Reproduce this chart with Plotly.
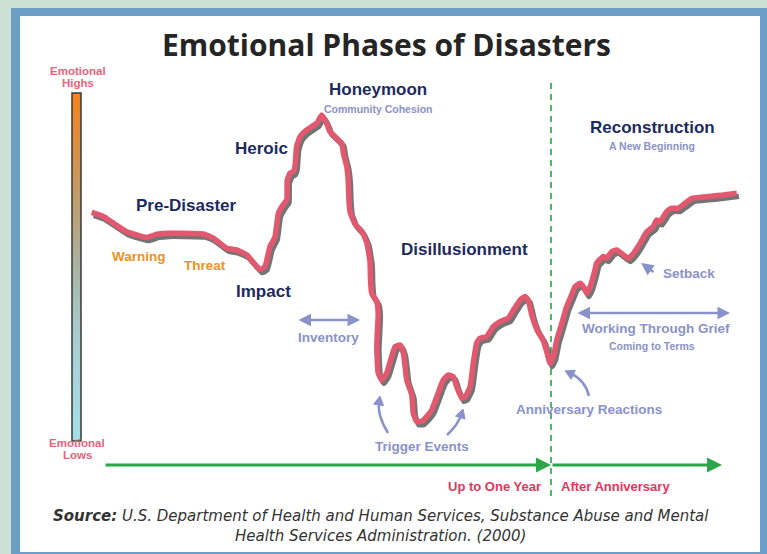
import plotly.graph_objects as go

# ---------------- data (months since impact, emotional level 0-100) ----------------
months = [-7.14, -6.65, -6.24, -5.68, -5.26, -4.85, -4.43, -4.01, -3.46, -2.49,
          -2.07, -1.51, -1.10, -0.68, -0.13, 0.08, 0.29, 0.50, 0.64, 0.83,
          0.99, 1.01, 1.125, 1.26, 1.33, 1.40, 1.54, 1.82, 2.24, 2.45,
          2.65, 2.79, 3.07, 3.28, 3.35, 3.49, 3.55, 3.58, 3.63, 3.83,
          4.13, 4.33, 4.46, 4.48, 4.53, 4.74, 4.80, 4.74, 4.80, 4.95,
          5.15, 5.36, 5.50, 5.71, 5.85, 5.99, 6.20, 6.26, 6.40, 6.61,
          6.82, 7.03, 7.24, 7.51, 7.72, 7.93, 8.07, 8.28, 8.42, 8.63,
          8.76, 8.90, 9.04, 9.32, 9.60, 9.88, 10.22, 10.43, 10.71, 10.92,
          11.05, 11.21, 11.42, 11.67, 11.82, 11.96, 12.10, 12.24, 12.45, 12.65,
          12.86, 13.00, 13.21, 13.35, 13.49, 13.63, 13.83, 13.90, 14.18, 14.32,
          14.53, 14.74, 15.01, 15.22, 15.43, 15.71, 15.99, 16.26, 16.40, 16.54,
          16.82, 17.03, 17.30, 17.58, 17.86, 18.49, 19.18, 19.74]
levels = [65.7, 64.5, 62.6, 60.1, 59.2, 58.5, 59.4, 59.7, 59.7, 59.5,
          58.3, 55.4, 54.9, 53.5, 49.3, 50.1, 55.8, 58.7, 65.4, 67.8,
          69.3, 75.0, 76.9, 77.4, 78.8, 84.6, 87.4, 89.4, 91.3, 93.7,
          91.3, 88.9, 87.0, 85.6, 82.7, 78.8, 75.0, 69.3, 65.8, 62.4,
          60.1, 56.9, 51.4, 46.3, 42.4, 40.0, 36.7, 27.1, 19.5, 17.5,
          19.5, 24.2, 27.1, 27.6, 25.2, 17.5, 13.2, 8.0, 5.6, 5.6,
          7.0, 8.9, 12.7, 17.5, 19.0, 18.5, 15.6, 12.3, 12.7, 15.6,
          22.3, 28.1, 29.5, 30.0, 32.9, 34.3, 35.3, 37.6, 40.5, 41.5,
          40.5, 35.9, 31.9, 29.0, 25.7, 22.3, 24.2, 29.0, 33.8, 38.6,
          42.0, 44.3, 45.3, 44.3, 42.4, 44.3, 49.1, 51.1, 53.0, 52.5,
          54.4, 54.9, 53.5, 52.5, 53.9, 56.8, 60.1, 61.6, 63.5, 63.0,
          65.9, 66.9, 66.9, 68.3, 69.7, 70.2, 70.7, 71.2]

title_text = "Emotional Phases of Disasters"
phase_labels = ["Pre-Disaster", "Heroic", "Honeymoon", "Impact", "Disillusionment", "Reconstruction"]
sub_labels = ["Community Cohesion", "A New Beginning", "Coming to Terms"]
event_labels = ["Inventory", "Trigger Events", "Anniversary Reactions", "Setback", "Working Through Grief"]
warn_labels = ["Warning", "Threat"]
time_labels = ["Up to One Year", "After Anniversary"]
scale_words = ["Emotional", "Highs", "Emotional", "Lows"]
source_html = ("<b>Source:</b> U.S. Department of Health and Human Services, Substance Abuse and Mental"
               "<br>Health Services Administration. (2000)")
anniversary_month = 12

# ---------------- layout calibration ----------------
W, H = 767, 554
MONTH0_PX, PX_PER_MONTH = 263, 24.0
LEVEL0_PX, PX_PER_LEVEL = 441, 3.48


def px(x):
    return x / W


def py(y):
    return 1 - y / H


def mx(x):  # pixel x -> month
    return (x - MONTH0_PX) / PX_PER_MONTH


NAVY = "#1d2a5f"
LAV = "#8a92cb"
ORANGE = "#ef9121"
PINK = "#e8627c"
RED = "#e2375c"
GREEN = "#2ba64a"
CURVE = "#e2586f"
FONT = "Liberation Sans"

fig = go.Figure()

# gradient scale bar
bx0, bx1 = mx(72), mx(81)
fig.add_trace(go.Scatter(
    x=[bx0, bx1, bx1, bx0, bx0], y=[0, 0, 100, 100, 0], mode="lines",
    fill="toself", line=dict(color="#3a3a3a", width=1.5),
    fillgradient=dict(type="vertical", colorscale=[
        [0, "#a4dfea"], [0.3, "#a8cfd0"], [0.5, "#a9b3a3"], [0.72, "#c49a62"], [1, "#f7821b"]]),
    hoverinfo="skip", showlegend=False))

# curve shadow + curve
fig.add_trace(go.Scatter(
    x=[m + 0.09 for m in months], y=[v - 0.9 for v in levels], mode="lines",
    line=dict(color="rgba(70,70,70,0.75)", width=5.5, shape="spline", smoothing=0.4),
    hoverinfo="skip", showlegend=False))
fig.add_trace(go.Scatter(
    x=months, y=levels, mode="lines",
    line=dict(color=CURVE, width=5.5, shape="spline", smoothing=0.4),
    hoverinfo="skip", showlegend=False))

shapes = [
    dict(type="rect", xref="paper", yref="paper", x0=px(11), x1=1.02, y0=-0.02, y1=py(8),
         fillcolor="#6b9fc6", line=dict(width=0), layer="below"),
    dict(type="rect", xref="paper", yref="paper", x0=px(20), x1=px(760), y0=py(552), y1=py(16),
         fillcolor="white", line=dict(width=0), layer="below"),
    dict(type="line", xref="x", yref="paper", x0=anniversary_month, x1=anniversary_month,
         y0=py(496), y1=py(80), line=dict(color="#4db868", width=2, dash="6px,5px"), layer="below"),
]


def qpath(p0, c, p1):
    return "M {} {} Q {} {} {} {}".format(px(p0[0]), py(p0[1]), px(c[0]), py(c[1]), px(p1[0]), py(p1[1]))


def head_path(tip, c, length=9, half=5):
    dx, dy = tip[0] - c[0], tip[1] - c[1]
    n = (dx * dx + dy * dy) ** 0.5
    ux, uy = dx / n, dy / n
    bx, by = tip[0] - ux * length, tip[1] - uy * length
    pts = [tip, (bx - uy * half, by + ux * half), (bx + uy * half, by - ux * half)]
    return "M " + " L ".join("{} {}".format(px(a), py(b)) for a, b in pts) + " Z"


curved = [((388, 433), (377, 415), (380, 396)),
          ((447, 435), (458, 425), (463, 409)),
          ((589, 396), (585, 380), (565, 371))]
for p0, c, p1 in curved:
    dx, dy = p1[0] - c[0], p1[1] - c[1]
    n = (dx * dx + dy * dy) ** 0.5
    end = (p1[0] - dx / n * 6, p1[1] - dy / n * 6)
    shapes.append(dict(type="path", xref="paper", yref="paper", path=qpath(p0, c, end),
                       line=dict(color=LAV, width=2.5)))
    shapes.append(dict(type="path", xref="paper", yref="paper", path=head_path(p1, c),
                       fillcolor=LAV, line=dict(color=LAV, width=1)))

ann = []


def text(t, x, y, color, size, bold=True, xanchor="center", family=FONT, italic=False):
    s = ("<b>%s</b>" % t) if bold else t
    if italic:
        s = "<i>%s</i>" % s
    ann.append(dict(text=s, x=px(x), y=py(y), xref="paper", yref="paper",
                    showarrow=False, xanchor=xanchor, yanchor="middle", align="center",
                    font=dict(family=family, size=size, color=color)))


def arrow(tail, head, color, width, both=False, size=1.0):
    ann.append(dict(text="", x=px(head[0]), y=py(head[1]), xref="paper", yref="paper",
                    ax=tail[0] - head[0], ay=tail[1] - head[1], axref="pixel", ayref="pixel",
                    showarrow=True, arrowhead=2, startarrowhead=2, arrowsize=size, startarrowsize=size,
                    arrowside="end+start" if both else "end",
                    arrowwidth=width, arrowcolor=color, standoff=0, startstandoff=0))


arrow((297, 320), (360, 320), LAV, 2.5, both=True)
arrow((576, 313), (730, 313), LAV, 2.5, both=True)
arrow((655, 273), (641, 263), LAV, 2.5)
arrow((104, 465), (551, 465), GREEN, 3)
arrow((551, 465), (722, 465), GREEN, 3)

text(title_text, 386, 44, "#252525", 30, family="Open Sans")
text(scale_words[0], 77.5, 71, PINK, 11.5)
text(scale_words[1], 77.5, 83, PINK, 11.5)
text(scale_words[2], 77, 442.5, PINK, 11.5)
text(scale_words[3], 77, 455, PINK, 11.5)
text(phase_labels[0], 186.5, 206, NAVY, 17)
text(phase_labels[1], 261, 148, NAVY, 17)
text(phase_labels[2], 378, 89.5, NAVY, 17)
text(phase_labels[3], 263.5, 291, NAVY, 17)
text(phase_labels[4], 464, 250, NAVY, 17)
text(phase_labels[5], 652, 127, NAVY, 17)
text(sub_labels[0], 378.5, 108.5, LAV, 10.5)
text(sub_labels[1], 652, 146, LAV, 10.5)
text(sub_labels[2], 652, 346, LAV, 10.5)
text(warn_labels[0], 139, 256, ORANGE, 13.5)
text(warn_labels[1], 205, 266, ORANGE, 13.5)
text(event_labels[0], 328, 337, LAV, 13.5)
text(event_labels[1], 421.5, 446, LAV, 13.5)
text(event_labels[2], 588.5, 409.5, LAV, 13.5)
text(event_labels[3], 689, 273, LAV, 13.5)
text(event_labels[4], 655.5, 328.5, LAV, 13.5)
text(time_labels[0], 543, 486, RED, 13, xanchor="right")
text(time_labels[1], 559, 486, RED, 13, xanchor="left")
text(source_html, 381, 526, "#333333", 15, bold=False, italic=True, family="DejaVu Sans")

fig.update_layout(
    width=W, height=H, margin=dict(l=0, r=0, t=0, b=0),
    paper_bgcolor="#cbdfd3", plot_bgcolor="rgba(0,0,0,0)",
    xaxis=dict(range=[(0 - MONTH0_PX) / PX_PER_MONTH, (W - MONTH0_PX) / PX_PER_MONTH], visible=False,
               fixedrange=True),
    yaxis=dict(range=[(LEVEL0_PX - H) / PX_PER_LEVEL, LEVEL0_PX / PX_PER_LEVEL], visible=False,
               fixedrange=True),
    shapes=shapes, annotations=ann, showlegend=False,
)

fig.write_html("out.html", config={"displayModeBar": False},
               post_script="document.body.style.margin='0px';document.body.style.overflow='hidden';")
